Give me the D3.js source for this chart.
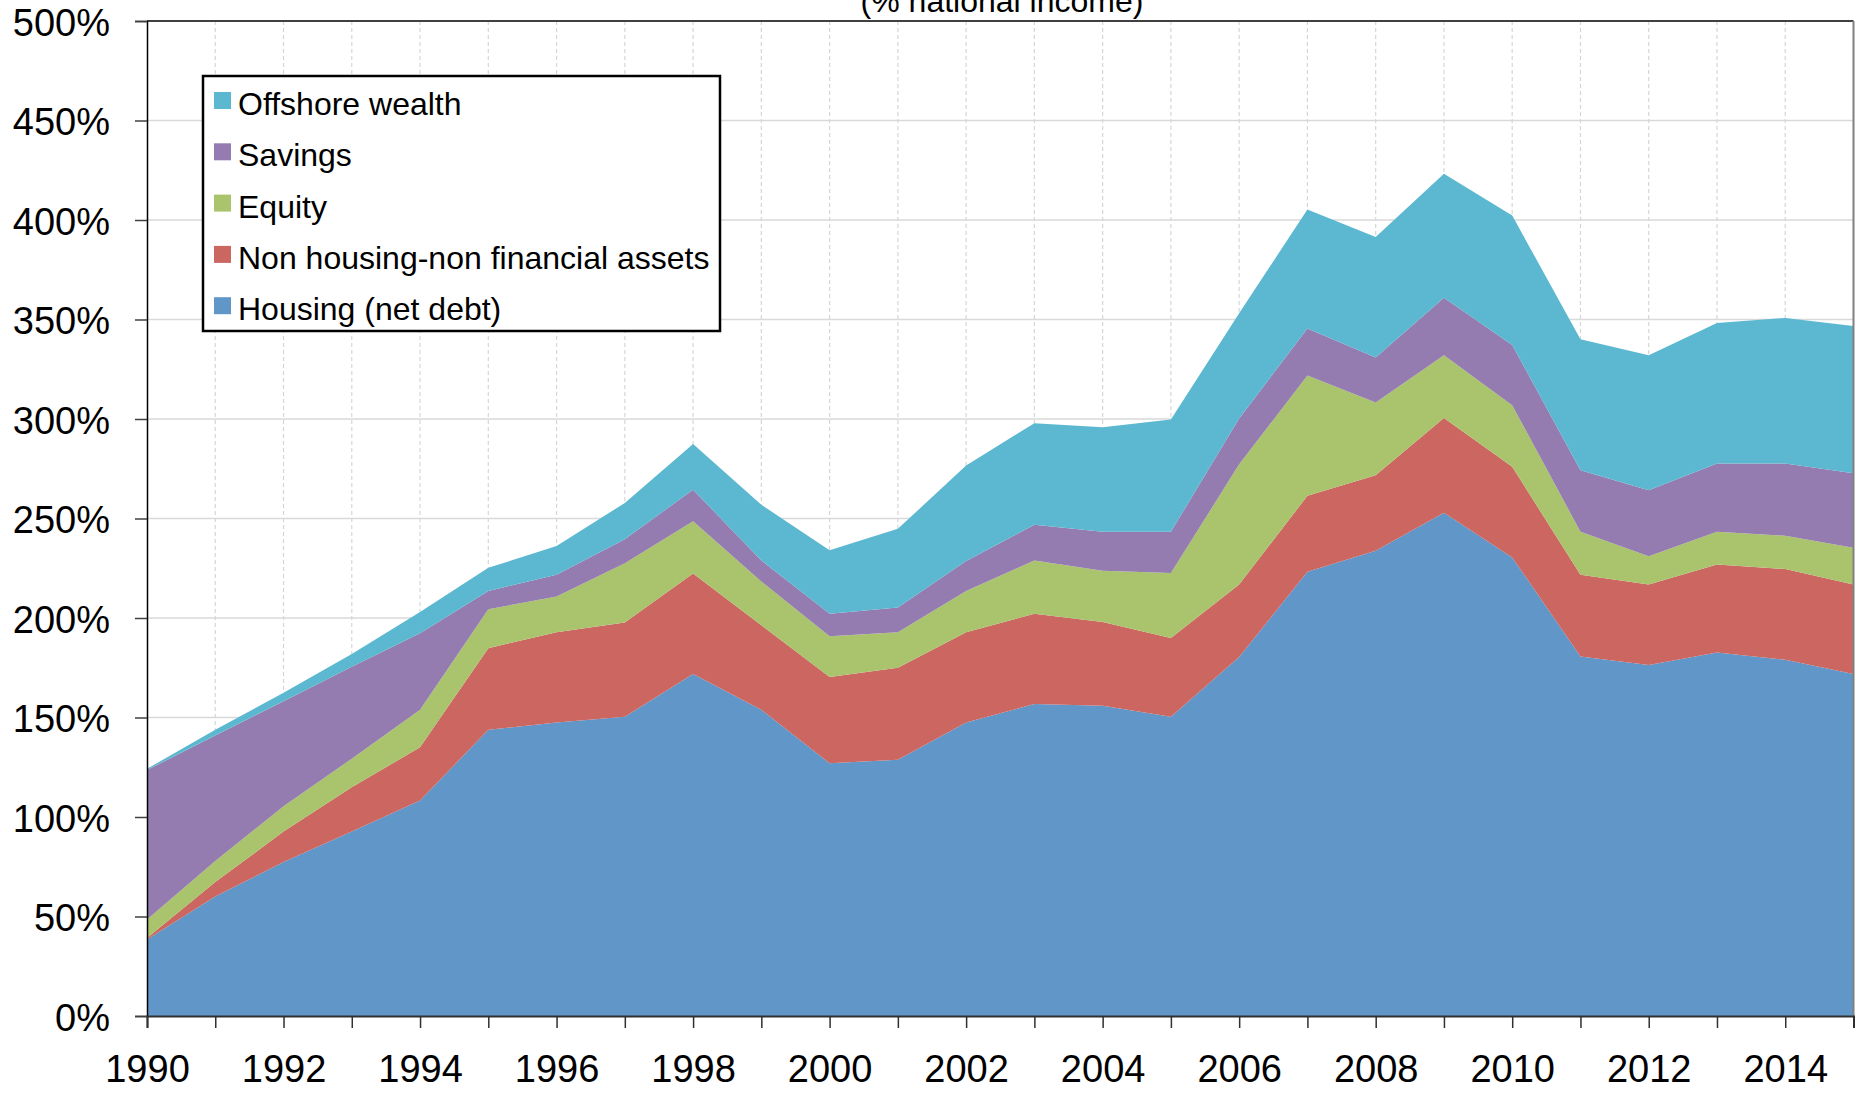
<!DOCTYPE html>
<html lang="en">
<head>
    <meta charset="UTF-8">
    <title>Wealth composition</title>
    <script src="https://cdn.jsdelivr.net/npm/d3@7"></script>
    <style>
        body {
            margin: 0;
            background: #fff;
        }

        svg {
            display: block;
            font-family: "Liberation Sans", Arial, sans-serif;
        }

        .axis text {
            font-size: 38px;
            fill: #000;
        }

        .legend text {
            font-size: 32px;
        }
    </style>
</head>
<body>
<div id="graphArea"></div>
<script>
// data, % of national income
let years = [1990, 1991, 1992, 1993, 1994, 1995, 1996, 1997, 1998, 1999, 2000, 2001, 2002,
    2003, 2004, 2005, 2006, 2007, 2008, 2009, 2010, 2011, 2012, 2013, 2014, 2015]
let housing = [38.4, 60.0, 77.4, 92.7, 108.3, 143.8, 147.5, 150.4, 171.8, 153.9, 127.0, 128.8, 147.5,
    156.8, 155.9, 150.4, 180.4, 223.2, 233.8, 252.9, 230.4, 180.7, 176.4, 182.7, 179.0, 171.8]
let nonHousing = [0.8, 7.3, 15.3, 22.2, 26.8, 41.0, 45.4, 47.4, 50.5, 42.4, 43.3, 46.2, 45.4,
    45.3, 42.1, 39.6, 36.4, 38.2, 37.9, 47.6, 45.6, 41.0, 40.4, 44.2, 45.6, 45.0]
let equity = [9.3, 10.6, 12.7, 14.4, 18.8, 19.6, 17.9, 29.7, 26.3, 22.0, 20.5, 17.9, 20.7,
    26.8, 25.7, 32.6, 60.4, 60.5, 36.6, 31.5, 30.9, 21.7, 14.2, 16.5, 16.7, 18.5]
let savings = [75.1, 63.0, 52.8, 46.2, 38.4, 9.2, 10.9, 12.1, 15.9, 10.6, 11.3, 12.4, 15.1,
    17.9, 19.7, 20.8, 23.0, 23.6, 22.6, 28.9, 30.3, 30.9, 33.2, 34.3, 36.4, 37.5]
let offshore = [0.6, 2.9, 4.3, 6.4, 10.7, 11.6, 14.5, 18.2, 23.0, 28.0, 32.0, 39.5, 47.9,
    51.1, 52.5, 56.3, 52.9, 59.8, 60.6, 62.3, 65.0, 65.8, 67.8, 70.5, 73.1, 73.9]

let seriesKeys = ['housing', 'nonHousing', 'equity', 'savings', 'offshore']
let seriesNames = ['Housing (net debt)', 'Non housing-non financial assets', 'Equity', 'Savings', 'Offshore wealth']
let seriesColors = ['#6096c8', '#cc6661', '#a9c46c', '#947bb0', '#5bb8d0']
let yTicks = [0, 50, 100, 150, 200, 250, 300, 350, 400, 450, 500]
let xLabelYears = [1990, 1992, 1994, 1996, 1998, 2000, 2002, 2004, 2006, 2008, 2010, 2012, 2014]

let svgWidth = 1858, svgHeight = 1096
let plotLeft = 147, plotRight = 1853.5, plotTop = 21, plotBottom = 1016

let rows = years.map((yr, i) => ({
    year: yr,
    housing: housing[i],
    nonHousing: nonHousing[i],
    equity: equity[i],
    savings: savings[i],
    offshore: offshore[i]
}))

let x = d3.scaleLinear().domain([1990, 2015]).range([plotLeft, plotRight])
let y = d3.scaleLinear().domain([0, 500]).range([plotBottom, plotTop])

let svg = d3.select('#graphArea').append('svg')
    .attr('width', svgWidth)
    .attr('height', svgHeight)

// title, cut by the top of the picture as in the original
svg.append('text')
    .attr('x', 1002)
    .attr('y', 12)
    .attr('text-anchor', 'middle')
    .style('font-size', '32px')
    .text('(% national income)')

// grid
svg.append('g').selectAll('line')
    .data(yTicks.filter(d => d > 0 && d < 500))
    .enter().append('line')
    .attr('x1', plotLeft).attr('x2', plotRight)
    .attr('y1', d => y(d)).attr('y2', d => y(d))
    .attr('stroke', '#d9d9d9')
    .attr('stroke-width', 1.3)

svg.append('g').selectAll('line')
    .data(years.slice(1, -1))
    .enter().append('line')
    .attr('x1', d => x(d)).attr('x2', d => x(d))
    .attr('y1', plotTop).attr('y2', plotBottom)
    .attr('stroke', '#d6d6d6')
    .attr('stroke-width', 1.2)
    .attr('stroke-dasharray', '4,3')

// stacked areas
let stack = d3.stack().keys(seriesKeys)
let layers = stack(rows)

let area = d3.area()
    .x(d => x(d.data.year))
    .y0(d => y(d[0]))
    .y1(d => y(d[1]))

svg.append('g').selectAll('path')
    .data(layers)
    .enter().append('path')
    .attr('d', area)
    .attr('fill', (d, i) => seriesColors[i])

// frame top and right
svg.append('line')
    .attr('x1', plotLeft).attr('x2', plotRight)
    .attr('y1', plotTop).attr('y2', plotTop)
    .attr('stroke', '#404040')
    .attr('stroke-width', 2)
svg.append('line')
    .attr('x1', plotRight).attr('x2', plotRight)
    .attr('y1', plotTop).attr('y2', plotBottom)
    .attr('stroke', '#808080')
    .attr('stroke-width', 2)

// axes
let yAxis = svg.append('g')
    .attr('class', 'axis')
    .attr('transform', `translate(${plotLeft},0)`)
    .call(d3.axisLeft(y).tickValues(yTicks).tickFormat(d => d + '%').tickSize(12).tickPadding(25))
yAxis.select('.domain').attr('stroke', '#000').attr('stroke-width', 1.5)
yAxis.selectAll('.tick line').attr('stroke', '#404040').attr('stroke-width', 1.5)
yAxis.selectAll('.tick text').attr('dy', '0.38em').style('font-family', '"Liberation Sans", Arial, sans-serif')

let xAxis = svg.append('g')
    .attr('class', 'axis')
    .attr('transform', `translate(0,${plotBottom})`)
    .call(d3.axisBottom(x).tickValues(years).tickSize(12).tickPadding(27)
        .tickFormat(d => xLabelYears.includes(d) ? d : ''))
xAxis.select('.domain').attr('stroke', '#303030').attr('stroke-width', 2)
xAxis.selectAll('.tick line').attr('stroke', '#303030').attr('stroke-width', 1.5)
xAxis.selectAll('.tick text').style('font-family', '"Liberation Sans", Arial, sans-serif')

// legend
let legend = svg.append('g').attr('class', 'legend')
legend.append('rect')
    .attr('x', 203).attr('y', 76)
    .attr('width', 517).attr('height', 255)
    .attr('fill', '#fff')
    .attr('stroke', '#000')
    .attr('stroke-width', 2.5)

let legendOrder = [4, 3, 2, 1, 0]
let item = legend.selectAll('g.item')
    .data(legendOrder)
    .enter().append('g')
    .attr('class', 'item')
    .attr('transform', (d, i) => `translate(214,${92 + i * 51.3})`)
item.append('rect')
    .attr('width', 17).attr('height', 17)
    .attr('fill', d => seriesColors[d])
item.append('text')
    .attr('x', 24)
    .attr('y', 23)
    .text(d => seriesNames[d])
</script>
</body>
</html>
